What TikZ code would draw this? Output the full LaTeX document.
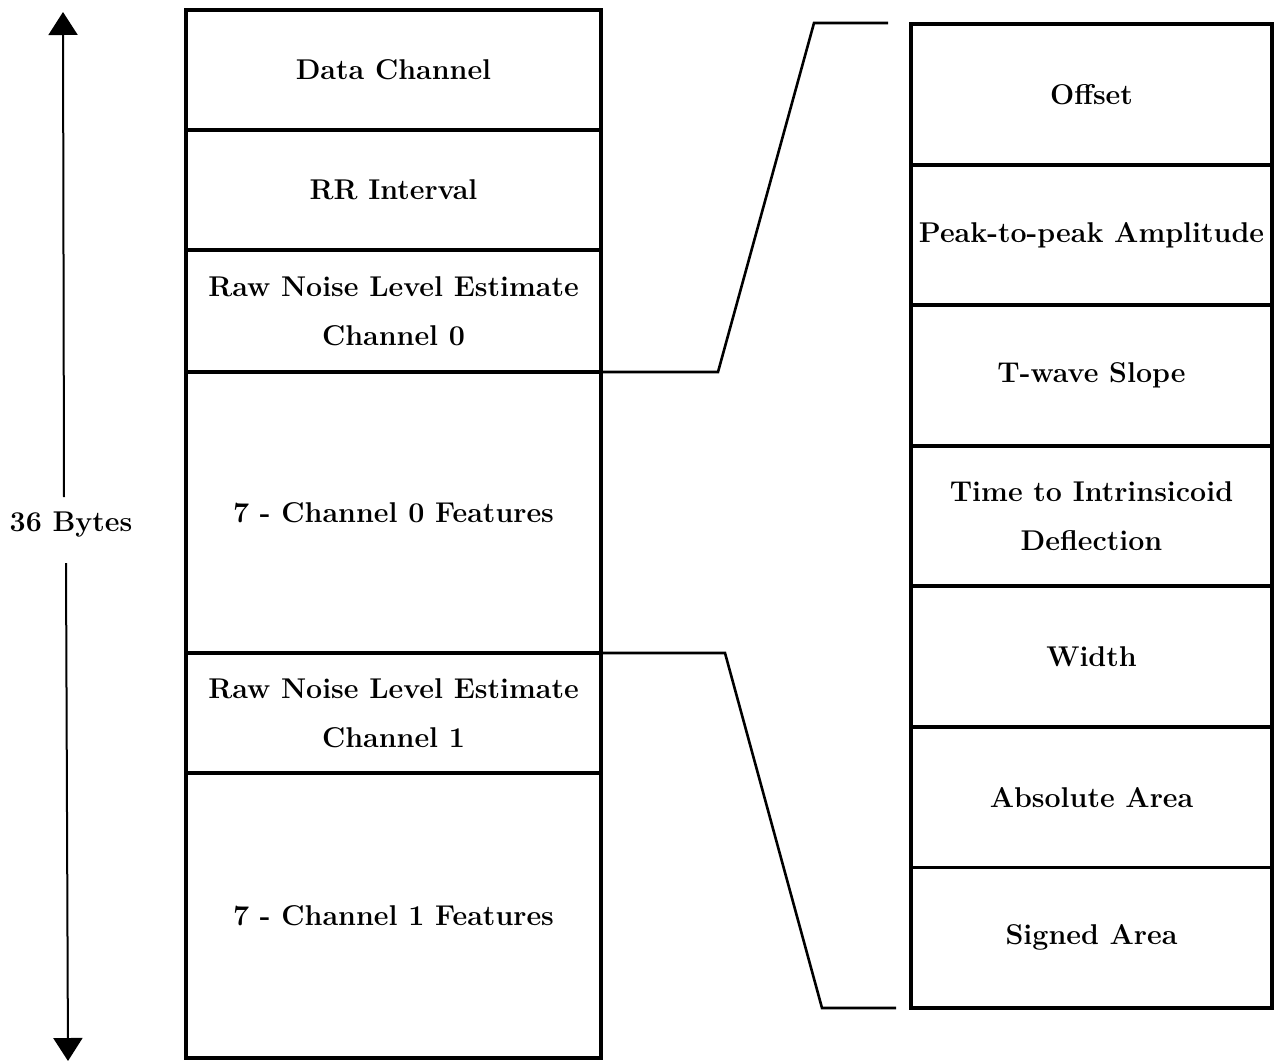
\documentclass[tikz,border=0pt]{standalone}
\usetikzlibrary{arrows.meta}
\newcommand\cellfont{\fontsize{28.6}{49}\selectfont\bfseries}
\begin{document}
\begin{tikzpicture}[x=1pt,y=-1pt,
  lcell/.style={draw, line width=3.8pt, anchor=north west, inner sep=0pt, outer sep=0pt,
    minimum width=415pt, align=center, font=\cellfont},
  rcell/.style={draw, line width=3.8pt, anchor=north west, inner sep=0pt, outer sep=0pt,
    minimum width=361pt, minimum height=140.6pt, align=center, font=\cellfont},
  conn/.style={line width=2.6pt, line join=miter},
  dimarrow/.style={line width=2pt, -{Triangle[length=23pt,width=29pt]}}]
\useasboundingbox (0,0) rectangle (1283,1063);
% left column
\node[lcell, minimum height=120pt] (c1) at (186,10) {Data Channel};
\node[lcell, minimum height=120pt] (c2) at (186,130) {RR Interval};
\node[lcell, minimum height=122pt] (c3) at (186,250) {Raw Noise Level Estimate\\Channel 0};
\node[lcell, minimum height=281pt] (c4) at (186,372) {7 - Channel 0 Features};
\node[lcell, minimum height=120pt] (c5) at (186,653) {Raw Noise Level Estimate\\Channel 1};
\node[lcell, minimum height=285pt] (c6) at (186,773) {7 - Channel 1 Features};
% right column
\node[rcell] (r1) at (911,24) {Offset};
\node[rcell] (r2) at (911,164.6) {Peak-to-peak Amplitude};
\node[rcell] (r3) at (911,305.1) {T-wave Slope};
\node[rcell] (r4) at (911,445.7) {Time to Intrinsicoid\\Deflection};
\node[rcell] (r5) at (911,586.3) {Width};
\node[rcell] (r6) at (911,726.9) {Absolute Area};
\node[rcell] (r7) at (911,867.4) {Signed Area};
% expansion connectors
\coordinate (t1) at (718,372);
\coordinate (t2) at (814,23);
\coordinate (t3) at (888,23);
\coordinate (b1) at (725,653);
\coordinate (b2) at (822,1008);
\coordinate (b3) at (896,1008);
\draw[conn] (c3.south east) -- (t1) -- (t2) -- (t3);
\draw[conn] (c5.north east) -- (b1) -- (b2) -- (b3);
% size arrow
\node[font=\cellfont] (bytes) at (71,525) {36 Bytes};
\coordinate (atop) at (63,12);
\coordinate (abot) at (68,1061);
\coordinate (gtop) at (64,497);
\coordinate (gbot) at (66,563);
\draw[dimarrow] (gtop) -- (atop);
\draw[dimarrow] (gbot) -- (abot);
\end{tikzpicture}
\end{document}
